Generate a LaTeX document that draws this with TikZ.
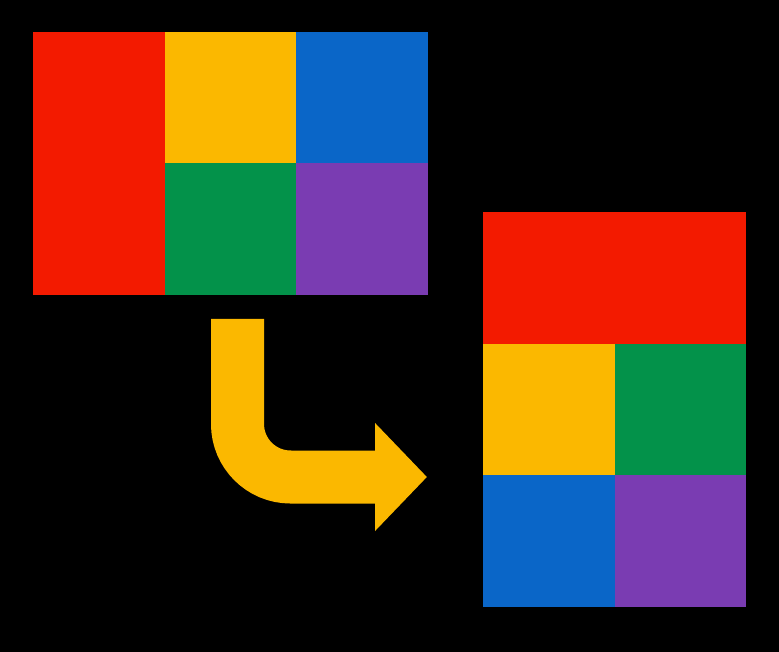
\documentclass[tikz,border=0pt]{standalone}
\usepackage{tikz}
\usetikzlibrary{positioning,arrows.meta}
\usepackage{xcolor}
\definecolor{blockred}{HTML}{F31A00}
\definecolor{blockyellow}{HTML}{FBB800}
\definecolor{blockblue}{HTML}{0A66C8}
\definecolor{blockgreen}{HTML}{03924A}
\definecolor{blockpurple}{HTML}{7A3CB2}
\tikzset{
  cell/.style={
    rectangle, draw=none, inner sep=0pt, outer sep=0pt,
    minimum width=131.5pt, minimum height=131.5pt
  },
  tallcell/.style={
    cell, minimum height=263pt
  },
  widecell/.style={
    cell, minimum width=263pt
  },
  bentarr/.style={
    -{Triangle[length=52pt, width=105pt]}, line width=53pt,
    rounded corners=53pt, blockyellow
  }
}

\begin{document}
\begin{tikzpicture}[x=1pt, y=-1pt]
% fondo
\fill[black] (0,0) rectangle (779,652);
\useasboundingbox (0,0) rectangle (779,652);

% bloque izquierdo
\node[tallcell, fill=blockred, anchor=north west] (l1) at (33,32) {};
\node[cell, fill=blockyellow, below right=0pt and 0pt of l1.north east] (l2) {};
\node[cell, fill=blockblue, right=0pt of l2] (l3) {};
\node[cell, fill=blockgreen, below=0pt of l2] (l4) {};
\node[cell, fill=blockpurple, below=0pt of l3] (l5) {};

% bloque derecho
\node[widecell, fill=blockred, anchor=north west] (r1) at (483,212) {};
\node[cell, fill=blockyellow, below right=0pt and 0pt of r1.south west] (r2) {};
\node[cell, fill=blockgreen, right=0pt of r2] (r3) {};
\node[cell, fill=blockblue, below=0pt of r2] (r4) {};
\node[cell, fill=blockpurple, below=0pt of r3] (r5) {};

% flecha
\coordinate (bendtop) at (237.5,319);
\coordinate (bendtip) at (427,477);
\draw[bentarr] (bendtop) |- (bendtip);
\end{tikzpicture}
\end{document}
